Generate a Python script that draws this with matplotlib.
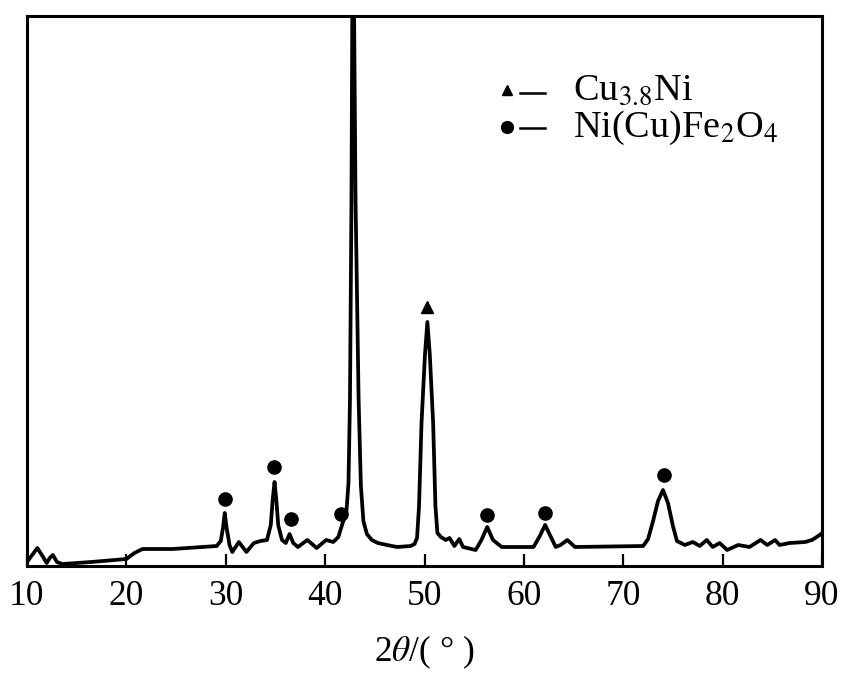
import matplotlib
matplotlib.use("Agg")
import matplotlib.pyplot as plt

plt.rcParams['font.family'] = ['Liberation Serif', 'DejaVu Serif']
plt.rcParams['mathtext.fontset'] = 'stix'

# XRD trace (2theta in degrees, intensity in arbitrary units)
two_theta = [10.0, 10.52, 11.04, 11.56, 11.98, 12.29, 12.6, 13.02, 13.54, 16.46,
             20.0, 20.81, 21.62, 24.65, 29.09, 29.5, 29.72, 29.9, 30.09, 30.38,
             30.66, 31.32, 32.08, 32.83, 33.49, 34.15, 34.53, 34.72, 34.91, 35.09,
             35.28, 35.66, 36.04, 36.42, 36.79, 37.26, 38.21, 39.15, 40.1, 40.82,
             41.33, 41.73, 42.14, 42.35, 42.5, 42.65, 42.8, 43.06, 43.37, 43.6,
             43.85, 44.2, 44.7, 45.3, 46.22, 47.24, 48.6, 49.0, 49.25, 49.45,
             49.7, 50.05, 50.29, 50.53, 50.87, 51.1, 51.3, 51.65, 52.14, 52.52,
             53.01, 53.5, 53.88, 55.15, 55.73, 56.31, 56.89, 57.77, 60.97, 61.55,
             62.14, 62.72, 63.2, 63.69, 64.37, 65.15, 72.0, 72.5, 73.0, 73.5,
             74.0, 74.5, 75.0, 75.4, 76.2, 77.0, 77.7, 78.4, 79.0, 79.7,
             80.45, 81.57, 82.7, 83.82, 84.49, 85.28, 85.73, 86.74, 88.31, 88.99,
             89.78, 90.0]
intensity = [4, 11, 18, 10, 3, 8, 11, 4, 2, 4,
             7, 13, 17, 17, 20, 25, 38, 53, 38, 21,
             14, 24, 14, 23, 25, 26, 41, 66, 84, 66,
             41, 26, 23, 32, 23, 19, 26, 18, 26, 24,
             29, 42, 54, 83, 166, 366, 700, 366, 166, 80,
             45, 32, 26, 23, 21, 19, 20, 22, 28, 60,
             143, 212, 244, 212, 143, 60, 33, 29, 26, 28,
             20, 27, 19, 16, 26, 39, 26, 19, 19, 29,
             41, 29, 19, 21, 26, 19, 20, 27, 45, 65,
             76, 63, 40, 25, 21, 24, 20, 26, 19, 23,
             16, 21, 19, 26, 21, 26, 21, 23, 24, 26,
             31, 33]

# Phase markers
cu_ni_x = [50.29]
cu_ni_y = [259]
ferrite_x = [29.9, 34.81, 36.6, 41.63, 56.31, 62.14, 74.1]
ferrite_y = [67, 99, 47, 52, 51, 53, 91]

x_ticks = [10, 20, 30, 40, 50, 60, 70, 80, 90]
legend_labels = [r"Cu$_{3.8}$Ni", r"Ni(Cu)Fe$_2$O$_4$"]
x_label = r"2$\theta$/( ° )"

fig = plt.figure(figsize=(8.57, 6.81), dpi=100)
ax = fig.add_axes([27/857, 1 - 566/681, (822-27)/857, (566-16)/681])

ax.plot(two_theta, intensity, color='black', lw=2.7, solid_joinstyle='round')
ax.plot(cu_ni_x, cu_ni_y, '^', color='black', ms=8)
ax.plot(ferrite_x, ferrite_y, 'o', color='black', ms=9.5)

ax.set_xlim(10, 90)
ax.set_ylim(0, 550)
ax.set_xticks(x_ticks)
ax.set_yticks([])
ax.tick_params(axis='x', direction='in', length=9, width=1.6, labelsize=25.5, pad=10)
for s in ax.spines.values():
    s.set_linewidth(2.2)
ax.set_xlabel(x_label, fontsize=25.5, labelpad=15)

# Legend drawn manually
leg_marker_y = [(566-90)/550, (566-127)/550]
leg_dash_y = [(566-93)/550, (566-128)/550]
leg_text_y = [(566-100)/550, (566-137)/550]
markers = ['^', 'o']
sizes = [7, 8.5]
for i in range(2):
    ax.plot([(507-27)/795], [leg_marker_y[i]], markers[i], color='black', ms=sizes[i],
            transform=ax.transAxes, clip_on=False)
    ax.plot([(520-27)/795, (545-27)/795], [leg_dash_y[i]]*2, color='black', lw=1.8,
            transform=ax.transAxes)
    ax.text((573-27)/795, leg_text_y[i], legend_labels[i], transform=ax.transAxes,
            fontsize=27.5, ha='left', va='baseline')

fig.savefig('out.png', dpi=100)
